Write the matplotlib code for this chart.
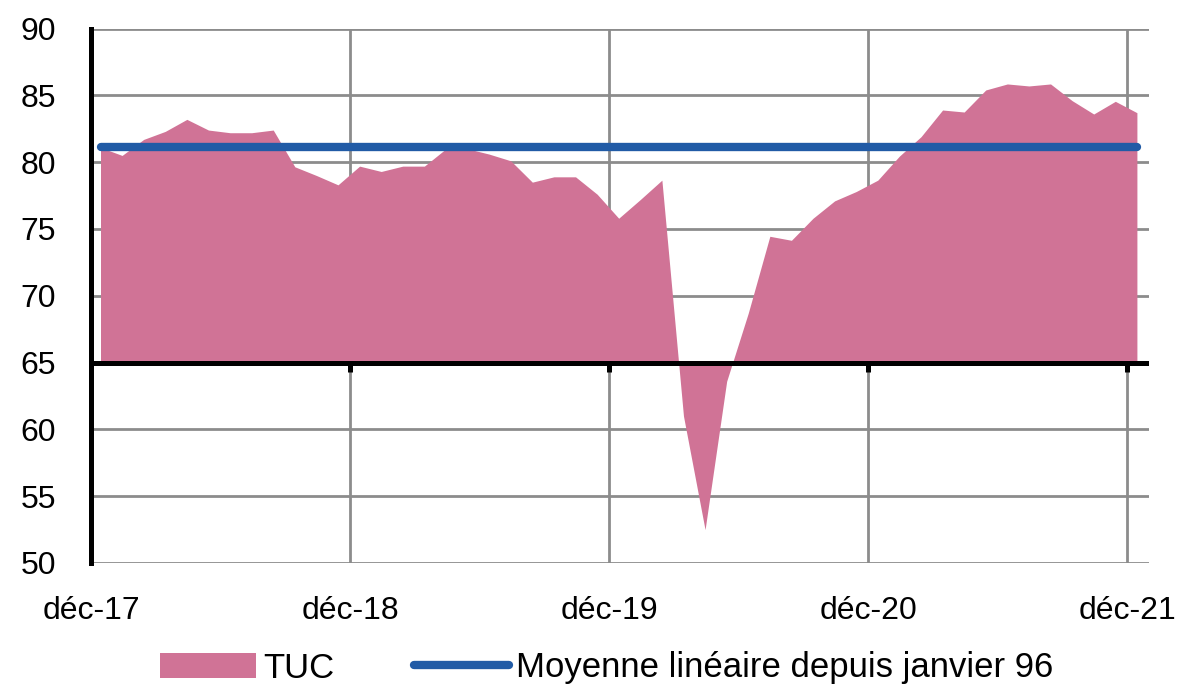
"""TUC (taux d'utilisation des capacités) vs. its long-run mean, dec-17 to dec-21."""

import matplotlib

matplotlib.use("Agg")
import matplotlib.pyplot as plt
import numpy as np

plt.rcParams["font.family"] = ["Liberation Sans", "DejaVu Sans"]

# monthly values, dec-17 .. dec-21
TUC = [
    81.1, 80.5, 81.7, 82.3, 83.2, 82.4, 82.2, 82.2, 82.4, 79.65, 79.0, 78.3,
    79.7, 79.3, 79.7, 79.7, 81.0, 81.0, 80.6, 80.1, 78.5, 78.9, 78.9, 77.6,
    75.8, 77.2, 78.65, 61.0, 52.5, 63.6, 68.7, 74.45, 74.15, 75.8, 77.1, 77.8,
    78.65, 80.45, 81.9, 83.9, 83.75, 85.4, 85.85, 85.7, 85.85, 84.6, 83.6, 84.55,
    83.7,
]
MEAN_SINCE_96 = 81.15
YEAR_LABELS = ["déc-17", "déc-18", "déc-19", "déc-20", "déc-21"]
Y_TICKS = [50, 55, 60, 65, 70, 75, 80, 85, 90]
CROSS_AT = 65

PINK = "#D07396"
BLUE = "#215BA6"
GRID = "#8C8C8C"

months = np.arange(len(TUC))
year_ticks = np.arange(len(YEAR_LABELS)) * 12 - 0.44

fig = plt.figure(figsize=(11.99, 6.91), dpi=100)
ax = fig.add_axes([91 / 1199, 1 - 563 / 691, (1149 - 91) / 1199, (563 - 28.5) / 691])

ax.fill_between(months, TUC, CROSS_AT, color=PINK, linewidth=0, label="TUC", zorder=2)
ax.plot(months, [MEAN_SINCE_96] * len(months), color=BLUE, linewidth=6,
        solid_capstyle="round", label="Moyenne linéaire depuis janvier 96", zorder=4)

ax.set_xlim(-0.44, 48.56)
ax.set_ylim(50, 90)
ax.set_yticks(Y_TICKS)
ax.set_xticks(year_ticks)
ax.set_xticklabels(YEAR_LABELS)
ax.tick_params(axis="both", length=0, labelsize=23)
ax.tick_params(axis="y", pad=25)
ax.tick_params(axis="x", pad=24)

ax.grid(True, color=GRID, linewidth=2)
ax.set_axisbelow(True)
for side in ["top", "right", "bottom"]:
    ax.spines[side].set_visible(False)
ax.spines["left"].set_linewidth(3.6)
ax.spines["left"].set_color("black")
ax.spines["left"].set_zorder(6)

# horizontal axis crossing at 65, with short tick marks hanging below it
ax.axhline(CROSS_AT, color="black", linewidth=3.6, zorder=5)
tick_len = 0.7
ax.vlines(year_ticks[1:], CROSS_AT - tick_len, CROSS_AT, color="black",
          linewidth=3.6, zorder=5)

handles, labels = ax.get_legend_handles_labels()
fig.legend(handles, labels, loc="center", bbox_to_anchor=(607 / 1199, 1 - 668 / 691),
           ncol=2, frameon=False, fontsize=25, handlelength=2.75, handleheight=0.7,
           handletextpad=0.2, columnspacing=2.3, borderaxespad=0)

fig.savefig("out.png", dpi=100)
plt.close(fig)
